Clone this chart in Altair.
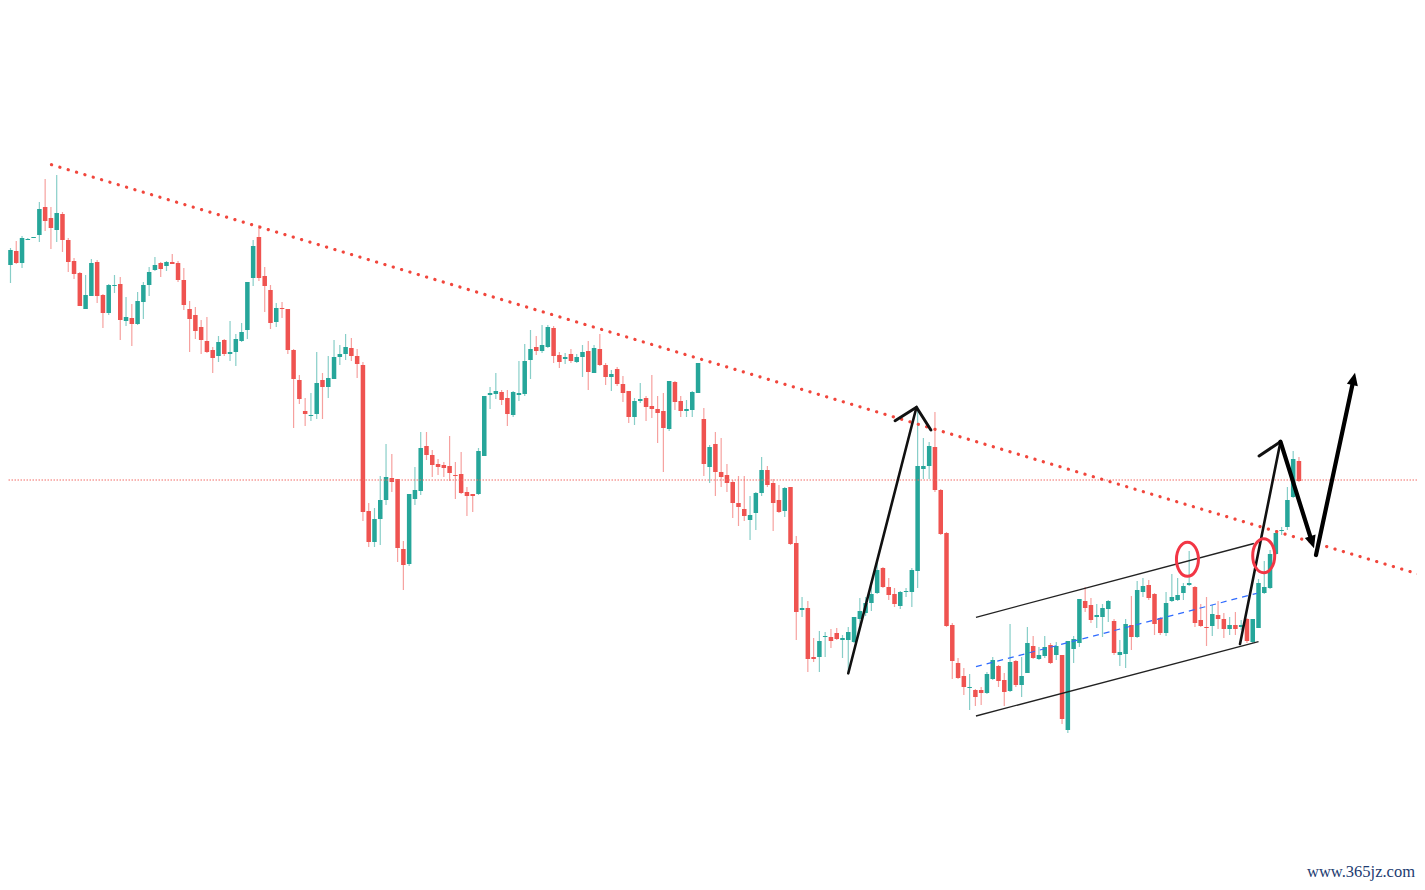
import math
import altair as alt
import pandas as pd

# ---------------- candle data (price units) ----------------
opens = [
    760, 735, 749, 737, 760, 762, 765, 793, 782, 770,
    786, 760, 739, 727, 691, 704, 738, 705, 687, 714,
    716, 679, 682, 676, 698, 715, 730, 737, 734, 738,
    737, 720, 691, 685, 673, 659, 650, 644, 660, 646,
    648, 659, 670, 722, 763, 724, 710, 678, 692, 691,
    650, 620, 589, 584, 586, 620, 613, 621, 643, 646,
    652, 644, 635, 489, 458, 481, 500, 522, 521, 451,
    436, 501, 509, 554, 545, 536, 535, 534, 525, 526,
    508, 506, 506, 544, 605, 606, 608, 602, 585, 605,
    606, 640, 653, 649, 653, 672, 645, 641, 646, 638,
    643, 649, 627, 651, 635, 623, 631, 616, 609, 583,
    599, 602, 594, 591, 589, 571, 618, 599, 589, 590,
    607, 581, 533, 556, 528, 525, 518, 497, 491, 480,
    487, 507, 530, 517, 500, 489, 513, 457, 390, 392,
    343, 343, 363, 363, 367, 360, 360, 358, 381, 387,
    397, 407, 432, 413, 406, 394, 408, 408, 429, 531,
    534, 553, 510, 467, 375, 337, 324, 312, 310, 310,
    307, 321, 334, 320, 309, 339, 315, 327, 354, 341,
    344, 355, 345, 345, 270, 351, 357, 399, 395, 383,
    383, 391, 379, 345, 346, 375, 363, 408, 415, 406,
    382, 367, 399, 400, 407, 415, 413, 380, 373, 374,
    385, 381, 371, 375, 373, 381, 358, 372, 407, 412,
    446, 469, 473, 503, 539,
]
highs = [
    770, 752, 759, 764, 762, 763, 798, 821, 793, 825,
    788, 762, 742, 728, 725, 741, 740, 706, 716, 725,
    723, 703, 696, 708, 718, 733, 743, 738, 739, 746,
    739, 732, 699, 693, 680, 683, 653, 664, 661, 679,
    666, 677, 718, 760, 775, 733, 715, 697, 698, 691,
    651, 625, 602, 607, 648, 627, 644, 660, 655, 666,
    662, 651, 638, 497, 492, 524, 556, 546, 521, 459,
    506, 533, 568, 568, 550, 541, 538, 564, 538, 548,
    513, 506, 552, 604, 613, 627, 610, 610, 609, 639,
    656, 670, 664, 675, 675, 674, 648, 647, 651, 646,
    655, 659, 655, 666, 637, 630, 633, 624, 609, 602,
    617, 604, 625, 604, 607, 619, 619, 604, 600, 609,
    637, 592, 555, 568, 562, 536, 520, 524, 524, 504,
    508, 543, 534, 521, 515, 513, 513, 464, 403, 399,
    362, 369, 368, 371, 372, 365, 373, 383, 402, 403,
    418, 437, 433, 422, 412, 409, 412, 432, 593, 562,
    558, 588, 511, 468, 377, 342, 332, 326, 311, 313,
    328, 343, 335, 327, 376, 340, 343, 373, 364, 353,
    364, 357, 358, 345, 359, 364, 401, 413, 402, 396,
    396, 400, 381, 360, 381, 404, 419, 422, 420, 407,
    383, 408, 426, 422, 417, 449, 414, 396, 403, 395,
    399, 387, 383, 388, 380, 382, 381, 421, 439, 450,
    470, 473, 513, 549, 543,
]
lows = [
    734, 717, 736, 732, 760, 762, 758, 769, 751, 758,
    748, 728, 721, 694, 691, 704, 697, 672, 685, 707,
    660, 674, 654, 675, 681, 704, 729, 723, 729, 736,
    718, 690, 648, 661, 646, 647, 627, 638, 644, 639,
    634, 658, 661, 714, 719, 688, 671, 673, 682, 646,
    572, 596, 574, 579, 581, 581, 602, 621, 635, 640,
    639, 622, 479, 453, 453, 455, 495, 508, 438, 410,
    434, 495, 505, 540, 523, 525, 523, 519, 501, 506,
    484, 488, 505, 544, 591, 601, 595, 574, 583, 599,
    604, 621, 645, 647, 652, 637, 632, 636, 637, 637,
    623, 610, 627, 634, 615, 609, 614, 598, 577, 575,
    597, 579, 582, 557, 528, 569, 590, 583, 583, 583,
    607, 524, 517, 504, 513, 508, 482, 474, 479, 460,
    470, 504, 513, 469, 487, 483, 455, 360, 383, 328,
    338, 328, 343, 352, 360, 342, 328, 357, 375, 384,
    389, 406, 412, 400, 393, 391, 403, 393, 412, 521,
    521, 508, 465, 373, 321, 321, 305, 290, 294, 295,
    306, 320, 313, 294, 308, 313, 303, 327, 341, 340,
    342, 336, 340, 276, 267, 337, 353, 388, 377, 372,
    363, 378, 345, 334, 332, 350, 362, 403, 400, 365,
    365, 364, 398, 399, 400, 414, 373, 373, 354, 364,
    371, 362, 365, 365, 370, 357, 357, 372, 406, 411,
    445, 465, 470, 502, 518,
]
closes = [
    736, 750, 737, 762, 761, 763, 791, 779, 772, 787,
    760, 738, 726, 694, 705, 737, 704, 687, 715, 715,
    680, 683, 676, 699, 715, 728, 735, 731, 738, 736,
    720, 695, 681, 669, 660, 648, 642, 658, 646, 648,
    661, 668, 718, 754, 722, 714, 677, 692, 691, 650,
    621, 601, 586, 585, 617, 613, 622, 643, 646, 653,
    644, 636, 488, 458, 481, 500, 523, 518, 452, 435,
    506, 510, 552, 545, 535, 533, 532, 527, 524, 507,
    504, 504, 549, 604, 607, 609, 600, 586, 608, 607,
    639, 651, 649, 655, 673, 644, 638, 643, 639, 643,
    648, 628, 652, 635, 623, 626, 616, 607, 583, 599,
    601, 593, 591, 587, 572, 619, 598, 589, 591, 608,
    637, 536, 553, 528, 523, 517, 497, 493, 484, 485,
    507, 530, 515, 497, 488, 512, 456, 388, 392, 341,
    341, 359, 364, 359, 361, 362, 368, 383, 389, 397,
    406, 430, 413, 405, 396, 408, 409, 430, 534, 534,
    554, 510, 466, 374, 339, 322, 313, 313, 303, 307,
    326, 340, 319, 308, 338, 315, 324, 357, 342, 345,
    353, 337, 354, 281, 359, 361, 401, 392, 380, 385,
    392, 399, 347, 348, 376, 363, 410, 414, 402, 376,
    367, 397, 403, 405, 414, 417, 377, 374, 372, 386,
    381, 371, 375, 371, 375, 359, 381, 417, 413, 446,
    467, 470, 500, 541, 519,
]

# ---------------- annotation data (candle index, price) ----------------
trend_k = [8.1, 245.8]
trend_p = [835.3, 424.0]
level_p = [520]
upper_k = [168.1, 216.2]
upper_p = [382.7, 456.5]
lower_k = [168.1, 217.0]
lower_p = [284.0, 358.3]
mid_k = [168.1, 216.7]
mid_p = [333.3, 406.7]
arrow1_k = [146.0, 157.8]          # start -> apex
arrow1_p = [326.7, 592.7]
chev1_k = [154.1, 157.8, 160.3]    # left arm, apex, right arm
chev1_p = [579.3, 592.7, 570.0]
arrow2_k = [213.8, 220.8]
arrow2_p = [356.0, 558.3]
chev2_k = [217.1, 220.8]
chev2_p = [544.0, 558.3]
down_k = [220.8, 226.6]            # apex -> tip
down_p = [558.3, 451.7]
up_k = [226.95, 233.7]             # start -> tip
up_p = [445.0, 627.3]
circle_k = [204.7, 217.9]
circle_p = [440.7, 444.3]
watermark = ["www.365jz.com"]

# ---------------- layout ----------------
W, H = 1409, 874
X_DOMAIN = [0.571, 244.43]
Y_DOMAIN = [118, 992]
PXK = W / (X_DOMAIN[1] - X_DOMAIN[0])   # pixels per candle index
PXP = H / (Y_DOMAIN[1] - Y_DOMAIN[0])   # pixels per price unit

xs = alt.Scale(domain=X_DOMAIN, nice=False, zero=False)
ys = alt.Scale(domain=Y_DOMAIN, nice=False, zero=False)

UP = "#26a69a"
DOWN = "#ef5350"
up_test = "datum.close >= datum.open"

candles = pd.DataFrame({"k": list(range(len(opens))), "open": opens,
                        "high": highs, "low": lows, "close": closes})
base = alt.Chart(candles)

wicks = base.mark_rule(strokeWidth=1.2, opacity=0.55).encode(
    x=alt.X("k:Q", scale=xs, axis=None),
    y=alt.Y("low:Q", scale=ys, axis=None),
    y2="high:Q",
    color=alt.condition(up_test, alt.value(UP), alt.value(DOWN)),
)
bodies = base.transform_calculate(
    k0="datum.k - 0.39", k1="datum.k + 0.39"
).mark_bar(strokeWidth=0).encode(
    x=alt.X("k0:Q", scale=xs, axis=None),
    x2="k1:Q",
    y=alt.Y("open:Q", scale=ys, axis=None),
    y2="close:Q",
    color=alt.condition(up_test, alt.value(UP), alt.value(DOWN)),
)


def seg_df(parts):
    rows = []
    for name, ks, ps in parts:
        for i, (k, p) in enumerate(zip(ks, ps)):
            rows.append({"seg": name, "o": i, "k": k, "p": p})
    return pd.DataFrame(rows)


def line_layer(df, **kw):
    return alt.Chart(df).mark_line(**kw).encode(
        x=alt.X("k:Q", scale=xs, axis=None),
        y=alt.Y("p:Q", scale=ys, axis=None),
        detail="seg:N",
        order="o:Q",
    )


level = alt.Chart(pd.DataFrame({"p": level_p})).mark_rule(
    color="#f26a64", strokeWidth=1, strokeDash=[1.5, 1.5]
).encode(y=alt.Y("p:Q", scale=ys, axis=None))

trend = line_layer(seg_df([("t", trend_k, trend_p)]),
                   color="#f1463c", strokeWidth=3.2, strokeDash=[0.1, 8.6],
                   strokeCap="round")
channel = line_layer(seg_df([("u", upper_k, upper_p), ("l", lower_k, lower_p)]),
                     color="#222222", strokeWidth=1.3)
mid = line_layer(seg_df([("m", mid_k, mid_p)]),
                 color="#2f6bff", strokeWidth=1.2, strokeDash=[6, 5])

HEAD_SIZE = 196
HEAD_R = math.sqrt(HEAD_SIZE) / 2
HEAD_PATH = "M0,-1L0.8,0.8L-0.8,0.8Z"


def head(tail_k, tail_p, tip_k, tip_p):
    dx = (tip_k - tail_k) * PXK
    dy = -(tip_p - tail_p) * PXP
    L = math.hypot(dx, dy)
    ux, uy = dx / L, dy / L
    ck = tip_k - HEAD_R * ux / PXK
    cp = tip_p + HEAD_R * uy / PXP
    ang = math.degrees(math.atan2(ux, -uy)) % 360
    return ck, cp, ang


hd = head(down_k[0], down_p[0], down_k[1], down_p[1])
hu = head(up_k[0], up_p[0], up_k[1], up_p[1])

thin = line_layer(seg_df([("a1", arrow1_k, arrow1_p), ("a2", arrow2_k, arrow2_p)]),
                  color="#111111", strokeWidth=2.6, strokeCap="round")
chev = line_layer(seg_df([("c1", chev1_k, chev1_p), ("c2", chev2_k, chev2_p)]),
                  color="#111111", strokeWidth=3.0, strokeCap="round",
                  strokeJoin="miter")
thick = line_layer(seg_df([("d", [down_k[0], hd[0]], [down_p[0], hd[1]]),
                           ("u", [up_k[0], hu[0]], [up_p[0], hu[1]])]),
                   color="#000000", strokeWidth=4.2, strokeCap="round")

heads = alt.Chart(pd.DataFrame({"k": [hd[0], hu[0]], "p": [hd[1], hu[1]],
                                "a": [hd[2], hu[2]]})).mark_point(
    shape=HEAD_PATH, filled=True, color="#000000", size=HEAD_SIZE, opacity=1
).encode(
    x=alt.X("k:Q", scale=xs, axis=None),
    y=alt.Y("p:Q", scale=ys, axis=None),
    angle=alt.Angle("a:Q", scale=None),
)

ELLIPSE = "M0,-1.55A1,1.55 0 1,1 0,1.55A1,1.55 0 1,1 0,-1.55Z"
circles = alt.Chart(pd.DataFrame({"k": circle_k, "p": circle_p})).mark_point(
    shape=ELLIPSE, filled=False, stroke="#f23645", strokeWidth=3,
    size=484, opacity=1
).encode(
    x=alt.X("k:Q", scale=xs, axis=None),
    y=alt.Y("p:Q", scale=ys, axis=None),
)

text = alt.Chart(pd.DataFrame({"t": watermark})).mark_text(
    font="Liberation Serif", fontSize=16.5, color="#1d3b70", align="right",
    baseline="middle"
).encode(text="t:N", x=alt.value(1407), y=alt.value(864))

chart = alt.layer(
    wicks, bodies, level, trend, channel, mid, thin, chev, thick, heads,
    circles, text
).properties(
    width=W, height=H, padding=0, autosize=alt.AutoSizeParams(type="none"),
    background="white"
).configure_view(stroke=None)

chart.save("out.html", embed_options={"renderer": "svg", "actions": False})
